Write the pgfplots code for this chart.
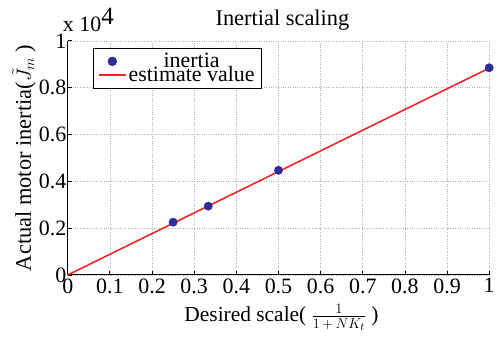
\documentclass[border=0pt]{standalone}
\usepackage{pgfplots}
\pgfplotsset{compat=1.18}
\usepackage{fontspec}
\setmainfont{Liberation Serif}
\definecolor{mblue}{RGB}{45,45,155}
\definecolor{mred}{RGB}{240,40,40}
\pgfplotsset{
  mylineleg/.style={legend image code/.code={\draw[##1] (0pt,0pt) -- (27pt,0pt);}},
  mymarkleg/.style={legend image code/.code={\path (0pt,0pt) (27pt,0pt);
    \draw[##1] plot coordinates {(13.5pt,0pt)};}},
}
\begin{document}
\begin{tikzpicture}
\begin{axis}[
  scale only axis,
  width=423pt, height=235pt,
  xmin=0, xmax=1, ymin=0, ymax=10000,
  xtick={0,0.1,...,1},
  ytick={0,2000,4000,6000,8000,10000},
  xticklabels={0,0.1,0.2,0.3,0.4,0.5,0.6,0.7,0.8,0.9,1},
  yticklabels={0,0.2,0.4,0.6,0.8,1},
  scaled y ticks=false,
  axis x line*=bottom, axis y line*=left,
  axis line style={line width=1pt},
  tick style={black, line width=0.8pt},
  major tick length=4pt,
  grid=major,
  grid style={dotted, gray!60, line width=0.6pt},
  ticklabel style={font=\rmfamily\fontsize{22}{24}\selectfont},
  yticklabel style={xshift=2pt},
  title style={font=\fontsize{22.5}{24}\selectfont, at={(axis description cs:0.5,1)}, anchor=base, yshift=9pt, xshift=4pt},
  title={Inertial scaling},
  xlabel={Desired scale( $\frac{1}{1\,+\,NK_t}$ )},
  ylabel={Actual motor inertia($\tilde{J}_m$ )},
  xlabel style={font=\fontsize{21.5}{24}\selectfont, at={(axis description cs:0.5,0)}, anchor=north, yshift=-29pt, xshift=3pt, inner sep=0pt},
  ylabel style={font=\fontsize{22.5}{24}\selectfont, at={(axis description cs:-0.104,0.5)}, anchor=center, inner sep=0pt},
  legend style={at={(rel axis cs:0.059,0.970)}, anchor=north west,
    font=\rmfamily\fontsize{22}{12}\selectfont, draw=black, line width=1pt,
    inner xsep=5pt, inner ysep=3pt, row sep=-7pt},
  legend cell align=center,
  clip=false,
]
\addplot[only marks, mark=*, mark size=4.2pt, color=mblue, mymarkleg] coordinates {
  (0.25,2255) (0.3333,2940) (0.5,4470) (1,8850)
};
\addlegendentry{inertia}
\addplot[mred, line width=1.6pt, mylineleg] coordinates {(0,0) (1,8834)};
\addlegendentry{estimate value}
\node[anchor=base west, inner sep=0pt, font=\rmfamily] at ([xshift=-5pt,yshift=9pt]rel axis cs:0,1) {\fontsize{22}{22}\selectfont x 10\raisebox{7pt}{\fontsize{25}{25}\selectfont 4}};
\path ([xshift=-68pt,yshift=-69pt]rel axis cs:0,0) ([xshift=7pt,yshift=41pt]rel axis cs:1,1);
\end{axis}
\end{tikzpicture}
\end{document}
